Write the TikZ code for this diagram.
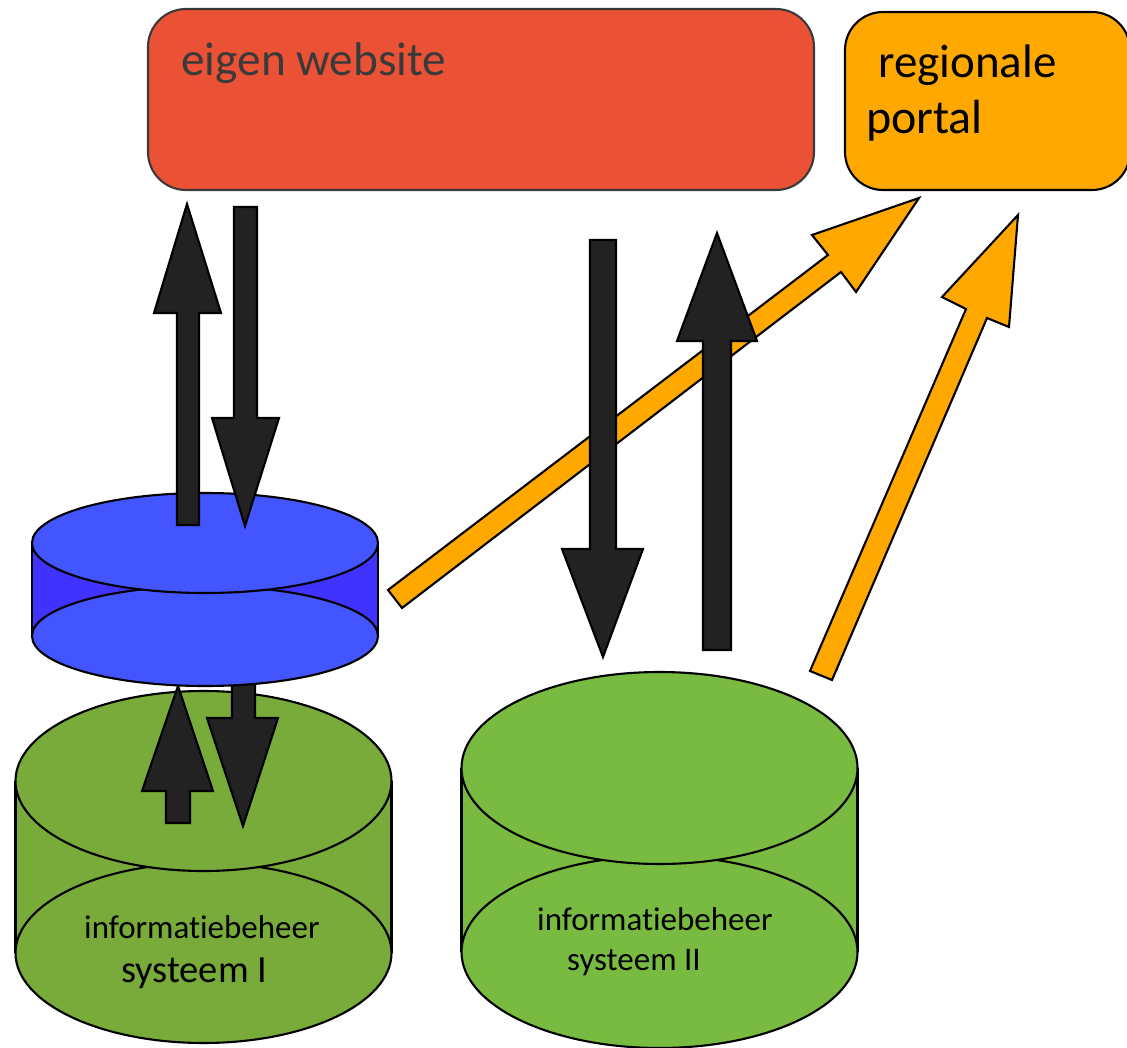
\documentclass[tikz,border=0pt]{standalone}
\usepackage{fontspec}
\setmainfont[Ligatures={NoCommon}]{Carlito}
\definecolor{redbox}{HTML}{EB5235}
\definecolor{orangebox}{HTML}{FFA900}
\definecolor{blackarrow}{HTML}{222222}
\definecolor{bluetop}{HTML}{4255FF}
\definecolor{bluebody}{HTML}{4033FF}
\definecolor{greenone}{HTML}{78AB3A}
\definecolor{greentwo}{HTML}{78BB40}
\definecolor{darktext}{HTML}{3A3A3A}
\tikzset{
  x=1pt,y=-1pt,
  outline/.style={draw=black,line width=2.1pt,line join=miter},
  darkarrow/.style={outline,fill=blackarrow},
  orangearrow/.style={outline,fill=orangebox},
  roundbox/.style={rounded corners=38pt,inner sep=0pt,line width=2.1pt},
  label/.style={anchor=base west,inner sep=0pt,text=black},
}
\newcommand{\cylinder}[6]{% cx, rx, ry, top cy, bottom cy, body colour
  \fill[#6] (#1-#2,#4) -- (#1-#2,#5) -- (#1+#2,#5) -- (#1+#2,#4) -- cycle;
  \draw[line width=2.1pt] (#1-#2,#4) -- (#1-#2,#5) (#1+#2,#4) -- (#1+#2,#5);
}
\begin{document}
\begin{tikzpicture}
\useasboundingbox (0,0) rectangle (1127,1048);
% boxes
\node[roundbox,draw=darktext,fill=redbox,minimum width=666pt,minimum height=181pt] (website) at (481,99.5) {};
\node[roundbox,draw=black,fill=orangebox,minimum width=285pt,minimum height=178pt] (portal) at (987.5,101) {};
\node[label,text=darktext,font=\fontsize{47.3}{47.3}\selectfont] (websitetext) at (181,76) {eigen website};
\node[label,font=\fontsize{47}{47}\selectfont] (portaltexta) at (878,78) {regionale};
\node[label,font=\fontsize{48}{48}\selectfont] (portaltextb) at (866,134) {portal};
% orange arrows
\draw[orangearrow] (388,590) -- (828,255) -- (812,235) -- (919,198) -- (856,292) -- (841,272) -- (402,608) -- cycle;
\draw[orangearrow] (810,671) -- (966,309) -- (942,297) -- (1018,215) -- (1009,327) -- (987,318) -- (832,680) -- cycle;
% right cylinder
\cylinder{659.5}{198}{96}{768}{952}{greentwo}
\draw[outline,fill=greentwo] (659.5,952) ellipse [x radius=198,y radius=96];
\draw[outline,fill=greentwo] (659.5,768) ellipse [x radius=198,y radius=96];
\node[label,font=\fontsize{33}{33}\selectfont] (infotwo) at (537,930) {informatiebeheer};
\node[label,font=\fontsize{33}{33}\selectfont] (systwo) at (567,970) {systeem II};
% left green cylinder
\cylinder{203.5}{188}{90}{781}{953}{greenone}
\draw[outline,fill=greenone] (203.5,953) ellipse [x radius=188,y radius=90];
\draw[outline,fill=greenone] (203.5,781) ellipse [x radius=188,y radius=90];
\node[label,font=\fontsize{33}{33}\selectfont] (infoone) at (84,938) {informatiebeheer};
\node[label,font=\fontsize{38.5}{38.5}\selectfont] (sysone) at (121,982) {systeem I};
% lower arrows
\draw[darkarrow] (166,823) -- (166,791) -- (142,791) -- (178,686) -- (213,791) -- (190,791) -- (190,823) -- cycle;
\draw[darkarrow] (232,680) -- (232,718) -- (207,718) -- (243,826) -- (278,718) -- (255,718) -- (255,680) -- cycle;
% blue cylinder
\cylinder{205}{173}{50}{543}{636}{bluebody}
\draw[outline,fill=bluetop] (205,636) ellipse [x radius=173,y radius=50];
\draw[outline,fill=bluetop] (205,543) ellipse [x radius=173,y radius=50];
% upper arrows
\draw[darkarrow] (177,525) -- (177,313) -- (154,313) -- (187,204) -- (221,313) -- (199,313) -- (199,525) -- cycle;
\draw[darkarrow] (234,207) -- (234,418) -- (212,418) -- (245,526) -- (279,418) -- (257,418) -- (257,207) -- cycle;
\draw[darkarrow] (590,240) -- (590,549) -- (562,549) -- (603,657) -- (643,549) -- (616,549) -- (616,240) -- cycle;
\draw[darkarrow] (703,650) -- (703,341) -- (677,341) -- (717,233) -- (757,341) -- (731,341) -- (731,650) -- cycle;
\end{tikzpicture}
\end{document}
